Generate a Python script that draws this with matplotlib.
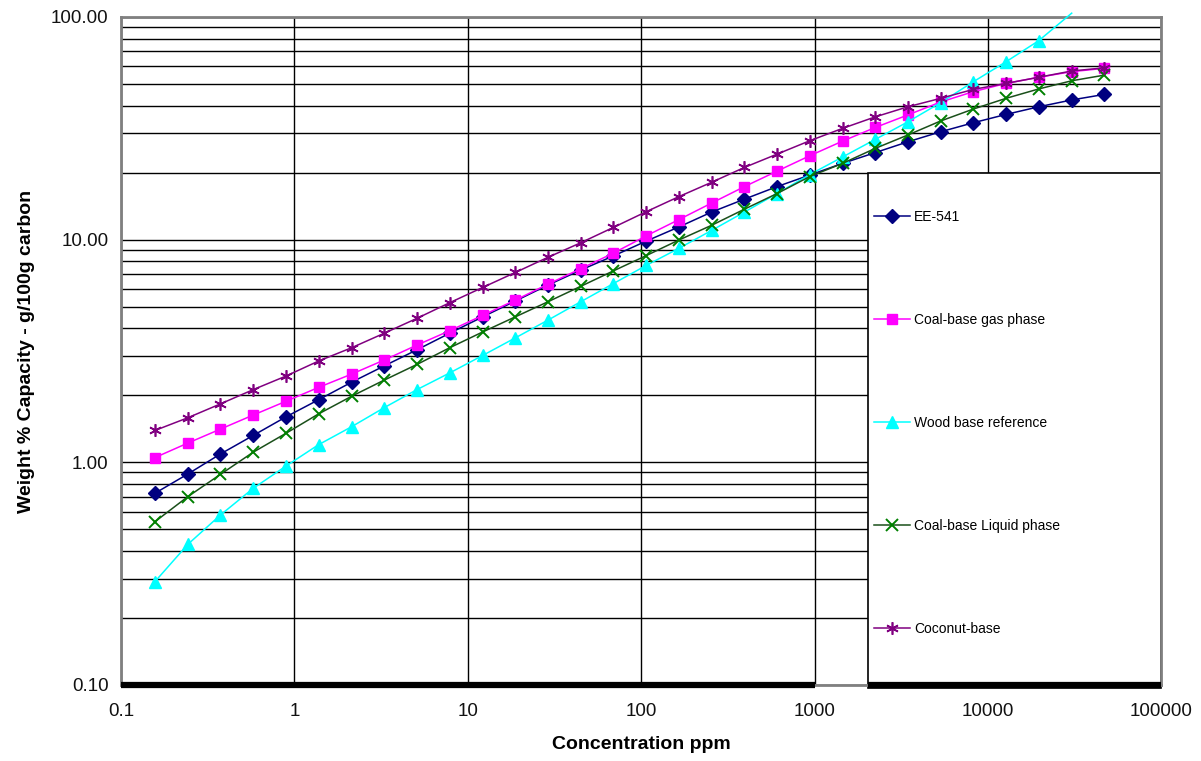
import matplotlib
matplotlib.use("Agg")
import matplotlib.pyplot as plt
from matplotlib.patches import Rectangle
from matplotlib.ticker import FixedLocator, LogLocator, NullFormatter, FuncFormatter

plt.rcParams["font.family"] = ["Liberation Sans", "DejaVu Sans"]

# concentration (ppm), same grid for every series
conc = [0.157, 0.243, 0.375, 0.579, 0.895, 1.38, 2.14, 3.30, 5.09, 7.87,
        12.2, 18.8, 29.0, 44.8, 69.2, 107, 165, 255, 394, 607,
        938, 1450, 2240, 3450, 5330, 8240, 12700, 19600, 30400, 46900]

ee541 = [0.726, 0.886, 1.09, 1.32, 1.60, 1.91, 2.29, 2.71, 3.20, 3.80,
         4.50, 5.30, 6.25, 7.30, 8.45, 9.85, 11.4, 13.3, 15.2, 17.3,
         19.5, 22.0, 24.6, 27.5, 30.5, 33.5, 36.5, 39.5, 42.4, 44.9]
coal_gas = [1.05, 1.22, 1.41, 1.63, 1.88, 2.17, 2.49, 2.88, 3.36, 3.90,
            4.57, 5.35, 6.31, 7.40, 8.70, 10.4, 12.3, 14.6, 17.3, 20.3,
            23.8, 27.7, 31.9, 36.3, 41.5, 46.2, 50.3, 53.6, 56.8, 58.8]
wood = [0.291, 0.428, 0.580, 0.764, 0.962, 1.20, 1.445, 1.76, 2.12, 2.52,
        3.02, 3.62, 4.35, 5.26, 6.35, 7.66, 9.14, 11.0, 13.3, 16.1,
        19.6, 23.5, 28.2, 33.8, 41.2, 51.2, 62.9, 78.2, 104]
coal_liquid = [0.541, 0.701, 0.883, 1.11, 1.35, 1.65, 1.98, 2.34, 2.75, 3.27,
               3.85, 4.50, 5.26, 6.17, 7.24, 8.48, 9.96, 11.6, 13.7, 16.1,
               19.2, 22.0, 25.7, 29.5, 34.1, 38.6, 43.1, 47.5, 51.7, 54.8]
coconut = [1.39, 1.585, 1.83, 2.12, 2.44, 2.85, 3.27, 3.80, 4.43, 5.21,
           6.10, 7.12, 8.33, 9.68, 11.35, 13.35, 15.6, 18.1, 21.1, 24.2,
           27.8, 31.6, 35.6, 39.5, 43.1, 47.3, 50.3, 53.6, 57.2, 59.1]

x_ticks = [0.1, 1, 10, 100, 1000, 10000, 100000]
y_ticks = [0.1, 1, 10, 100]

fig = plt.figure(figsize=(12.01, 7.61), dpi=100)
ax = fig.add_axes([0.1007, 0.0999, 0.8663, 0.8778])
ax.set_xscale("log")
ax.set_yscale("log")
ax.set_xlim(x_ticks[0], x_ticks[-1])
ax.set_ylim(y_ticks[0], y_ticks[-1])

# grid: vertical lines on decades only, horizontal on every minor step
ax.xaxis.set_major_locator(FixedLocator(x_ticks))
ax.xaxis.set_minor_locator(FixedLocator([]))
ax.yaxis.set_major_locator(FixedLocator(y_ticks))
ax.yaxis.set_minor_locator(LogLocator(base=10, subs=range(2, 10)))
ax.yaxis.set_minor_formatter(NullFormatter())
ax.xaxis.set_major_formatter(FuncFormatter(lambda v, p: f"{v:g}"))
ax.yaxis.set_major_formatter(FuncFormatter(lambda v, p: f"{v:.2f}"))
ax.grid(True, which="major", color="black", lw=1.0)
ax.grid(True, which="minor", axis="y", color="black", lw=1.0)
ax.set_axisbelow(True)
ax.tick_params(which="both", length=0, labelsize=13.5, colors="#111111")
ax.tick_params(axis="y", pad=9)
ax.tick_params(axis="x", pad=13)

for side in ("left", "top", "right", "bottom"):
    ax.spines[side].set_color("#808080")
    ax.spines[side].set_linewidth(2)

# legend box (white panel covering the grid)
box_x0, box_y0, box_x1, box_y1 = 0.718, -0.0045, 1.0, 0.7665
ax.add_patch(Rectangle((box_x0, box_y0), box_x1 - box_x0, box_y1 - box_y0,
                       transform=ax.transAxes, facecolor="white",
                       edgecolor="black", lw=1.2, zorder=1.5, clip_on=False))

# thick black base line, as in the original sheet
ax.plot([x_ticks[0], 1000], [y_ticks[0]] * 2, color="black", lw=4.5,
        solid_capstyle="butt", clip_on=False, zorder=3)
ax.plot([box_x0, box_x1], [0.0, 0.0], transform=ax.transAxes, color="black",
        lw=4.5, solid_capstyle="butt", clip_on=False, zorder=3)

ax.plot(conc, ee541, color="#000080", lw=1.1, marker="D", ms=7,
        label="EE-541", zorder=4)
ax.plot(conc, coal_gas, color="#FF00FF", lw=1.1, marker="s", ms=7,
        label="Coal-base gas phase", zorder=4)
ax.plot(conc[:len(wood)], wood, color="#00FFFF", lw=1.1, marker="^", ms=8,
        markevery=list(range(len(wood) - 1)), clip_on=False,
        label="Wood base reference", zorder=4)
ax.plot(conc, coal_liquid, color="#1A4F1A", lw=1.1, marker="x", ms=8,
        mec="#008000", mew=1.4, label="Coal-base Liquid phase", zorder=4)
ax.plot(conc, coconut, color="#800080", lw=1.1, marker=(6, 2, 0), ms=9,
        mew=1.2, label="Coconut-base", zorder=4)

leg = ax.legend(loc="upper left", bbox_to_anchor=(box_x0, 0.72),
                frameon=False, fontsize=10, labelspacing=6.42,
                handlelength=2.6, handletextpad=0.3, borderaxespad=0,
                borderpad=0.4)
leg.set_zorder(6)

ax.set_xlabel("Concentration ppm", fontsize=14, fontweight="bold", va="center")
ax.xaxis.set_label_coords(0.5, -0.0898)
ax.set_ylabel("Weight % Capacity - g/100g carbon", fontsize=14,
              fontweight="bold", va="center")
ax.yaxis.set_label_coords(-0.0903, 0.5)

fig.savefig("out.png", dpi=100)
